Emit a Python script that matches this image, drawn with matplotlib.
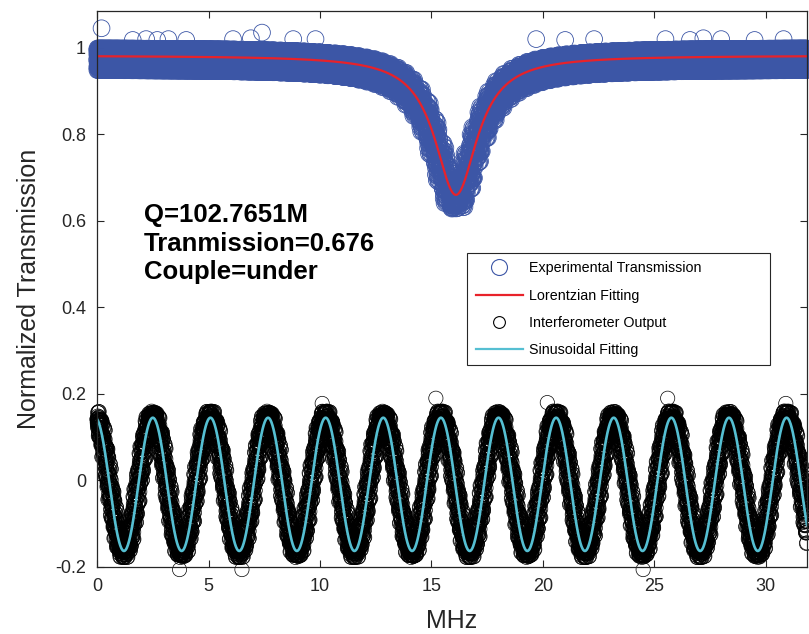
import numpy as np
import matplotlib
matplotlib.use('Agg')
import matplotlib.pyplot as plt
from matplotlib.lines import Line2D

plt.rcParams['font.family'] = ['Liberation Sans', 'DejaVu Sans']

# axis range (MHz)
x_start, x_end = 0.0, 31.85

# Lorentzian fit
lor_base = 0.982
lor_min = 0.66
lor_center = 16.1
lor_hwhm = 1.16

# sinusoidal fit
sin_offset = -0.009
sin_amp = 0.154
sin_period = 2.585
sin_first_peak = 2.5

blue_dx = [0.0, 0.2, -0.14, 0.07, -0.25, 0.27, -0.05, 0.15, -0.2, 0.11, -0.09]
blue_dy = [-0.008, 0.014, -0.026, 0.004, -0.032, 0.018, -0.016, 0.008, -0.022]
black_dx = [0.0, 0.1, -0.08, 0.04, -0.13, 0.13, -0.03, 0.07, -0.11, 0.06, -0.05]
black_dy = [0.0, 0.012, -0.01, 0.006, -0.015, 0.015, -0.004]

# stray points outside the bands
blue_out_x = [0.2, 1.6, 2.2, 2.7, 3.2, 4.0, 6.1, 6.9, 7.4, 8.8, 9.8,
              19.7, 21.0, 22.3, 25.5, 26.6, 27.2, 28.0, 29.5, 30.8, 12.0, 12.8, 13.4]
blue_out_y = [1.045, 1.018, 1.02, 1.018, 1.02, 1.018, 1.02, 1.022, 1.035, 1.02, 1.02,
              1.02, 1.018, 1.02, 1.02, 1.018, 1.022, 1.02, 1.018, 1.02, 0.925, 0.92, 0.925]
black_out_x = [0.1, 10.1, 15.2, 20.2, 25.6, 30.9, 3.7, 6.5, 24.5]
black_out_y = [0.12, 0.178, 0.19, 0.18, 0.19, 0.178, -0.206, -0.206, -0.206]


def lorentz(x):
    return lor_base - (lor_base - lor_min) / (1 + ((x - lor_center) / lor_hwhm) ** 2)


def sinus(x):
    return sin_offset + sin_amp * np.cos(2 * np.pi * (x - sin_first_peak) / sin_period)


x_fit = np.linspace(x_start, x_end, 2000)

n = 9000
x_meas = np.linspace(x_start, x_end, n)
k = np.arange(n)
bdx = np.array(blue_dx)[k % len(blue_dx)]
bdy = np.array(blue_dy)[k % len(blue_dy)]
kdx = np.array(black_dx)[k % len(black_dx)]
kdy = np.array(black_dy)[k % len(black_dy)]

blue_x = x_meas
blue_y = lorentz(np.clip(x_meas + bdx, x_start, x_end)) + bdy
black_x = x_meas
black_y = sinus(x_meas + kdx) + kdy

blue_x = np.concatenate([blue_x, blue_out_x])
blue_y = np.concatenate([blue_y, blue_out_y])
black_x = np.concatenate([black_x, black_out_x])
black_y = np.concatenate([black_y, black_out_y])

blue = '#3C56A6'
red = '#E8222A'
cyan = '#55BFD2'

fig = plt.figure(figsize=(8.09, 6.34), dpi=100)
ax = fig.add_axes([0.12, 0.1057, 0.8775, 0.877])

ax.scatter(blue_x, blue_y, s=145, facecolors='none', edgecolors=blue, linewidths=0.6, clip_on=False, zorder=2)
ax.plot(x_fit, lorentz(x_fit), color=red, lw=1.6, zorder=3)
ax.scatter(black_x, black_y, s=105, facecolors='none', edgecolors='black', linewidths=0.5, clip_on=False, zorder=2)
ax.plot(x_fit, sinus(x_fit), color=cyan, lw=1.9, zorder=3)

ax.set_xlim(x_start, x_end)
ax.set_ylim(-0.2, 1.085)
ax.set_xticks([0, 5, 10, 15, 20, 25, 30])
ax.set_yticks([-0.2, 0, 0.2, 0.4, 0.6, 0.8, 1])
ax.set_yticklabels(['-0.2', '0', '0.2', '0.4', '0.6', '0.8', '1'])
ax.tick_params(direction='in', length=5, width=0.8, top=True, right=True, labelsize=13, pad=8, colors='#262626')
for sp in ax.spines.values():
    sp.set_linewidth(0.9)
    sp.set_color('#262626')
    sp.set_zorder(4)

ax.set_xlabel('MHz', fontsize=18, color='#262626', labelpad=10)
ax.set_ylabel('Normalized Transmission', fontsize=18, color='#262626', labelpad=10)

ax.text(2.1, 0.597, 'Q=102.7651M', fontsize=18.5, fontweight='bold')
ax.text(2.1, 0.530, 'Tranmission=0.676', fontsize=18.5, fontweight='bold')
ax.text(2.1, 0.465, 'Couple=under', fontsize=18.5, fontweight='bold')

handles = [
    Line2D([], [], ls='none', marker='o', ms=11.5, mfc='none', mec=blue, mew=0.8),
    Line2D([], [], color=red, lw=1.6),
    Line2D([], [], ls='none', marker='o', ms=8.5, mfc='none', mec='black', mew=0.8),
    Line2D([], [], color=cyan, lw=1.6),
]
labels = ['Experimental Transmission', 'Lorentzian Fitting', 'Interferometer Output', 'Sinusoidal Fitting']
leg = ax.legend(handles, labels, loc='upper left', bbox_to_anchor=(0.521, 0.36, 0.427, 0.205),
                mode='expand', fontsize=10.3, handlelength=3.35, handletextpad=0.42, labelspacing=0.92,
                borderpad=0.6, borderaxespad=0, fancybox=False, framealpha=1, edgecolor='#262626')
leg.get_frame().set_linewidth(0.8)
leg.set_zorder(5)

fig.savefig('out.png', dpi=100)
